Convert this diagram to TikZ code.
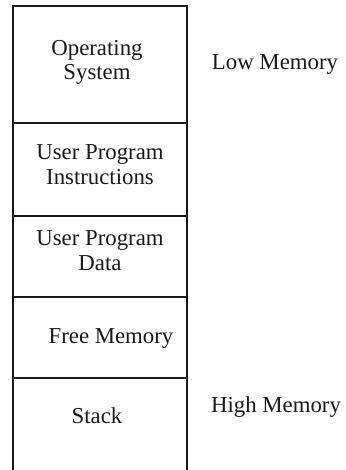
\documentclass[tikz,border=0pt]{standalone}
\usepackage{fontspec}
\setmainfont{Liberation Serif}
\begin{document}
\begin{tikzpicture}[x=1pt,y=-1pt,
  wall/.style={line width=1.4pt,draw=black!90},
  lbl/.style={font=\fontsize{22.8}{24.5}\selectfont,align=center,anchor=base,inner sep=0pt,text=black!90}]
\useasboundingbox (0,0) rectangle (345,470);
% memory column, open at the bottom
\coordinate (bl) at (13,470);
\coordinate (tl) at (13,6);
\coordinate (tr) at (187,6);
\coordinate (br) at (187,470);
\draw[wall] (bl) -- (tl) -- (tr) -- (br);
% region dividers
\foreach \yy/\nm in {123/a,216/b,297/c,378/d}{
  \coordinate (\nm l) at (13,\yy);
  \coordinate (\nm r) at (187,\yy);
  \draw[wall] (\nm l) -- (\nm r);
}
% region labels (base anchor sits on the last line)
\node[lbl] (os)   at (97,80)  {Operating\\ System};
\node[lbl] (upi)  at (100,184) {User Program\\ Instructions};
\node[lbl] (upd)  at (100,270) {User Program\\ Data};
\node[lbl] (free) at (111,343) {Free Memory};
\node[lbl] (stk)  at (97,423) {Stack};
% address ends
\node[lbl] (low)  at (275,70)  {Low Memory};
\node[lbl] (high) at (276,412) {High Memory};
\end{tikzpicture}
\end{document}
